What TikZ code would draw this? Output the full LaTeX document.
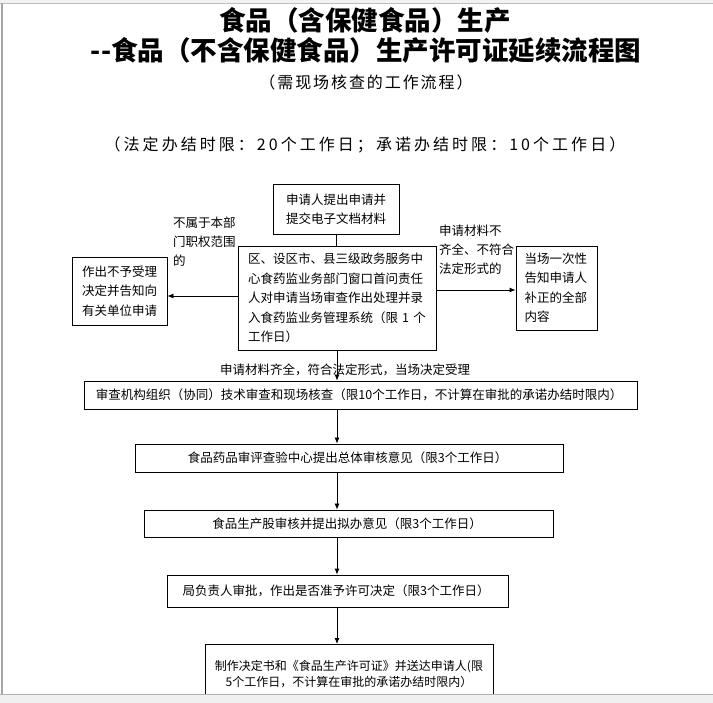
\documentclass[tikz,border=0pt]{standalone}
\usepackage{fontspec}
\setmainfont{Noto Sans CJK SC}
\newfontfamily\subfont[LetterSpace=12]{Noto Sans CJK SC}
\newfontfamily\limitfont[LetterSpace=19]{Noto Sans CJK SC}
\usetikzlibrary{arrows.meta}
\tikzset{
	box/.style = {
		shape=rectangle,
		draw,
		line width=0.8pt,
		inner sep=0pt,
		align=center,
		font=\fontsize{12.5}{19.5}\selectfont
	},
	lbl/.style = {
		align=left,
		inner sep=0pt,
		font=\fontsize{12.5}{19}\selectfont
	},
	arr/.style = {
		line width=0.8pt,
		-{Latex[length=6pt,width=5pt]}
	}
}

\begin{document}
\begin{tikzpicture}[x=1pt,y=-1pt]
	\useasboundingbox (0,0) rectangle (713,703);
	\fill[white] (0,0) rectangle (713,703);
	\node (title) at (365,20) {\fontsize{26.5}{30}\selectfont\bfseries 食品（含保健食品）生产};
	\node (subject) at (366,50) {\fontsize{26.5}{30}\selectfont\bfseries -{}-食品（不含保健食品）生产许可证延续流程图};
	\node (subtitle) at (366,82) {\subfont\fontsize{16}{20}\selectfont （需现场核查的工作流程）};
	\node (limit) at (365,145) {\limitfont\fontsize{16}{20}\selectfont （法定办结时限：20个工作日；承诺办结时限：10个工作日）};
	\node (apply) [box, minimum width=126pt, minimum height=50pt] at (336,209) {
		申请人提出申请并\\提交电子文档材料
	};
	\node (window) [box, minimum width=198pt, minimum height=104pt, text width=178pt, align=left] at (337,298) {
		区、设区市、县三级政务服务中\\
		心食药监业务部门窗口首问责任\\
		人对申请当场审查作出处理并录\\
		入食药监业务管理系统（限 1 个\\
		工作日）
	};
	\node (reject) [box, minimum width=95pt, minimum height=68pt] at (119.5,291) {
		作出不予受理\\决定并告知向\\有关单位申请
	};
	\node (notify) [box, minimum width=81pt, minimum height=84pt, text width=64pt, align=left] at (556.5,288) {
		当场一次性\\告知申请人\\补正的全部\\内容
	};
	\node (outside) [lbl, anchor=north west] at (173,217) {不属于本部\\门职权范围\\的};
	\node (incomplete) [lbl, anchor=north west] at (439,225) {申请材料不\\齐全、不符合\\法定形式的};
	\node (accepted) [lbl] at (345,370) {申请材料齐全，符合法定形式，当场决定受理};
	\node (review) [box, minimum width=553pt, minimum height=28pt] at (360.5,395) {
		审查机构组织（协同）技术审查和现场核查（限10个工作日，不计算在审批的承诺办结时限内）
	};
	\node (centre) [box, minimum width=428pt, minimum height=28pt] at (349,458) {
		食品药品审评查验中心提出总体审核意见（限3个工作日）
	};
	\node (section) [box, minimum width=409pt, minimum height=27pt] at (348.5,523.5) {
		食品生产股审核并提出拟办意见（限3个工作日）
	};
	\node (leader) [box, minimum width=341pt, minimum height=32pt] at (337.5,591) {
		局负责人审批，作出是否准予许可决定（限3个工作日）
	};
	\node (deliver) [box, minimum width=288pt, minimum height=60pt, anchor=north, font=\fontsize{12}{16}\selectfont] at (349,644) {
		制作决定书和《食品生产许可证》并送达申请人(限\\
		5个工作日，不计算在审批的承诺办结时限内）
	};
	\draw[line width=0.8pt] (apply.south) -- (apply.south |- window.north);
	\draw[arr] ([yshift=2pt]window.west) -- ([yshift=2pt]window.west -| reject.east);
	\draw[arr] ([yshift=8pt]window.east) -- ([yshift=8pt]window.east -| notify.west);
	\foreach \from/\to in {window/review, review/centre, centre/section, section/leader, leader/deliver}
		\draw[arr] (window.south |- \from.south) -- (window.south |- \to.north);
	\fill[gray!10] (0,0) rectangle (713,3);
	\draw[gray!50] (0,3) -- (713,3);
	\draw[gray!70, line width=2pt] (2,3) -- (2,694);
	\fill[gray!12] (0,694) rectangle (713,703);
	\draw[gray!60] (0,694) -- (713,694);
\end{tikzpicture}
\end{document}
